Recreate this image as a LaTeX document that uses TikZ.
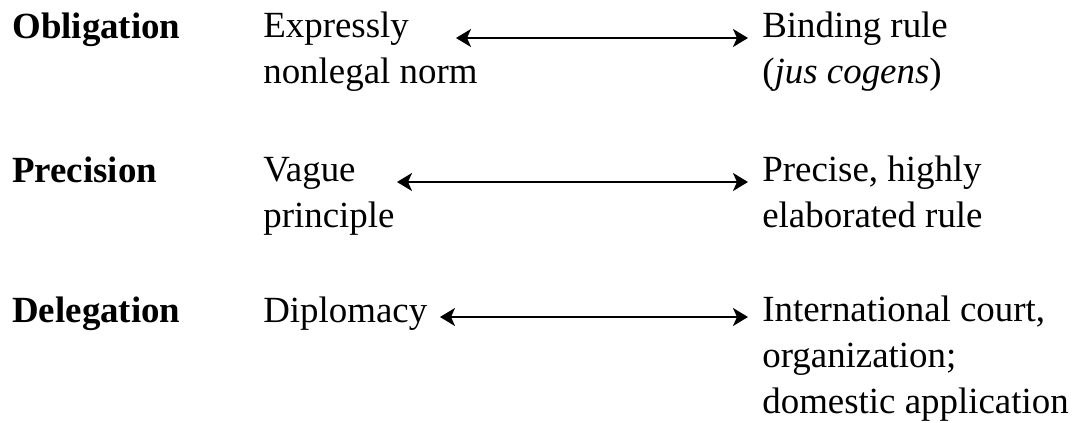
\documentclass[tikz,border=0pt]{standalone}
\usepackage{fontspec}
\setmainfont{Liberation Serif}
\usetikzlibrary{arrows.meta}

\begin{document}
\begin{tikzpicture}
[x=0.02cm,y=-0.02cm,
 dim/.style={anchor=base west,inner sep=0pt,font=\bfseries\fontsize{21}{25.9}\selectfont},
 pole/.style={anchor=base west,inner sep=0pt,align=left,font=\fontsize{21}{25.9}\selectfont},
 spanarrow/.style={{Stealth[length=0.3cm,width=0.36cm,inset=0.08cm]}-{Stealth[length=0.3cm,width=0.36cm,inset=0.08cm]},line width=1.2pt,shorten >=0.28cm}]
\useasboundingbox (0,0) rectangle (1080,423);
% dimensions
\node[dim] (obl) at (12,38) {Obligation};
\node[dim] (prec) at (12,182) {Precision};
\node[dim] (deleg) at (12,322) {Delegation};
% low end (placed by the baseline of the last line)
\node[pole] (expr) at (263,83.5) {Expressly\\nonlegal norm};
\node[pole] (vague) at (263,227) {Vague\\principle};
\node[pole] (dipl) at (263,322) {Diplomacy};
% high end
\node[pole] (bind) at (762,83.5) {Binding rule\\(\textit{jus cogens})};
\node[pole] (precise) at (762,227) {Precise, highly\\elaborated rule};
\node[pole] (court) at (762,413) {International court,\\organization;\\domestic application};
% arrows
\coordinate (obl-lo) at (456,38);
\coordinate (prec-lo) at (397,182);
\coordinate (deleg-lo) at (440,317);
\draw[spanarrow] (obl-lo) -- (obl-lo -| bind.west);
\draw[spanarrow] (prec-lo) -- (prec-lo -| precise.west);
\draw[spanarrow] (deleg-lo) -- (deleg-lo -| court.west);
\end{tikzpicture}
\end{document}
